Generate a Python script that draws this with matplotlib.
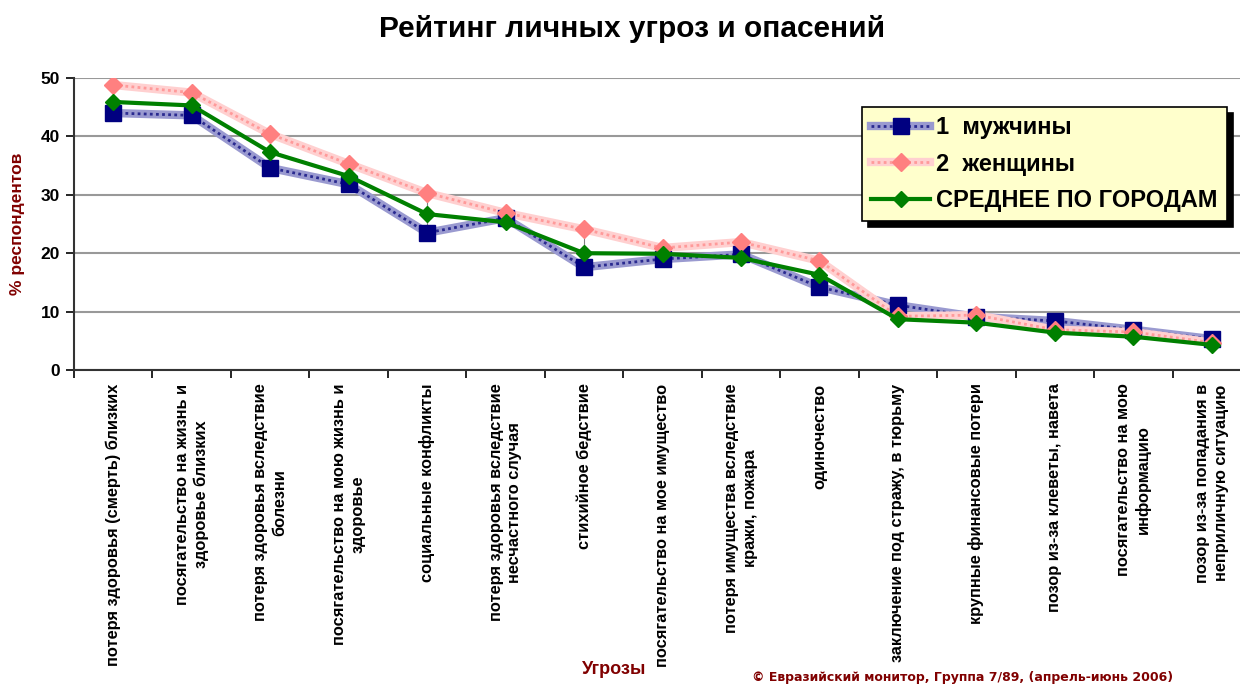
"""Rating of personal threats and fears: men vs women vs city average."""

import matplotlib.pyplot as plt
import numpy as np

CATEGORIES = [
    "потеря здоровья (смерть) близких",
    "посягательство на жизнь и\nздоровье близких",
    "потеря здоровья вследствие\nболезни",
    "посягательство на мою жизнь и\nздоровье",
    "социальные конфликты",
    "потеря здоровья вследствие\nнесчастного случая",
    "стихийное бедствие",
    "посягательство на мое имущество",
    "потеря имущества вследствие\nкражи, пожара",
    "одиночество",
    "заключение под стражу, в тюрьму",
    "крупные финансовые потери",
    "позор из-за клеветы, навета",
    "посягательство на мою\nинформацию",
    "позор из-за попадания в\nнеприличную ситуацию",
]
MEN = [44.0, 43.6, 34.6, 31.8, 23.5, 26.0, 17.6, 19.0, 19.8, 14.2, 11.1, 9.1, 8.4, 6.9, 5.3]
WOMEN = [48.8, 47.5, 40.4, 35.3, 30.3, 26.9, 24.1, 20.9, 21.9, 18.7, 9.2, 9.4, 6.9, 6.5, 4.7]
AVERAGE = [45.9, 45.3, 37.3, 33.2, 26.7, 25.3, 20.0, 19.9, 19.2, 16.3, 8.7, 8.1, 6.4, 5.7, 4.3]
SERIES_NAMES = ["1  мужчины", "2  женщины", "СРЕДНЕЕ ПО ГОРОДАМ"]

DARK_RED = "#800000"
plt.rcParams["font.family"] = ["Liberation Sans", "DejaVu Sans"]

W, H = 1240, 684
fig = plt.figure(figsize=(W / 100, H / 100), dpi=100)
ax = fig.add_axes([74 / W, (H - 370) / H, (1251 - 74) / W, 292 / H])

x = np.arange(len(CATEGORIES))
men = np.array(MEN)
women = np.array(WOMEN)
avg = np.array(AVERAGE)

# high-low lines between the series
hi = np.maximum.reduce([men, women, avg])
lo = np.minimum.reduce([men, women, avg])
ax.vlines(x, lo, hi, color="#808080", lw=0.8, zorder=2)

# men: hatched blue band
ax.plot(x, men, color="#9a9ad0", lw=6, solid_capstyle="butt", zorder=3)
ax.plot(x, men, color="#2a2a90", lw=2, ls=(0, (1, 1.2)), zorder=3)
ax.plot(x, men, ls="none", marker="s", ms=11, color="#000080", zorder=5)
# women: hatched pink band
ax.plot(x, women, color="#ffd0d0", lw=6, solid_capstyle="butt", zorder=3)
ax.plot(x, women, color="#ff9a9a", lw=2, ls=(0, (1, 1.2)), zorder=3)
ax.plot(x, women, ls="none", marker="D", ms=9, color="#ff8080", zorder=5)
# average
ax.plot(x, avg, color="#008000", lw=3, marker="D", ms=8.5, zorder=6)

# legend proxies
h_men = [
    plt.Line2D([], [], color="#9a9ad0", lw=6),
    plt.Line2D([], [], color="#2a2a90", lw=2, ls=(0, (1, 1.2)), marker="s", ms=11,
               mfc="#000080", mec="#000080"),
]
h_women = [
    plt.Line2D([], [], color="#ffd0d0", lw=6),
    plt.Line2D([], [], color="#ff9a9a", lw=2, ls=(0, (1, 1.2)), marker="D", ms=9,
               mfc="#ff8080", mec="#ff8080"),
]
h_avg = plt.Line2D([], [], color="#008000", lw=3, marker="D", ms=8.5)
leg = fig.legend(
    [tuple(h_men), tuple(h_women), h_avg], SERIES_NAMES,
    loc="upper left", bbox_to_anchor=(862 / W, 1 - 107 / H), borderaxespad=0,
    prop={"weight": "bold", "size": 17}, handlelength=2.5, handletextpad=0.25,
    borderpad=0.4, labelspacing=0.56, fancybox=False, framealpha=1,
    facecolor="#ffffcc", edgecolor="black",
    shadow={"color": "black", "alpha": 1, "ox": 4, "oy": -4},
)
leg.get_frame().set_linewidth(1.2)

ax.set_xlim(-0.5, len(CATEGORIES) - 0.5)
ax.set_ylim(0, 50)
ax.set_yticks(range(0, 51, 10))
ax.yaxis.grid(True, color="#999999", lw=1.5)
ax.set_axisbelow(True)
for s in ("top", "right"):
    ax.spines[s].set_visible(False)
for s in ("left", "bottom"):
    ax.spines[s].set_color("#333333")
    ax.spines[s].set_linewidth(1.5)
ax.tick_params(axis="y", direction="out", length=6, width=1.2, labelsize=12.5, pad=4)
for t in ax.get_yticklabels():
    t.set_fontweight("bold")

ax.set_xticks(np.arange(len(CATEGORIES) + 1) - 0.5)
ax.set_xticklabels([])
ax.tick_params(axis="x", direction="out", length=6, width=1.2)
for i, lab in enumerate(CATEGORIES):
    ax.text(i, -2.3, lab, rotation=90, ha="center", va="top", ma="center",
            fontsize=11.8, fontweight="bold", linespacing=1.3)

fig.text(632 / W, 1 - 29 / H, "Рейтинг личных угроз и опасений", ha="center", va="center",
         fontsize=21.5, fontweight="bold")
fig.text(18 / W, 1 - 224 / H, "% респондентов", rotation=90, ha="center", va="center",
         fontsize=12.5, fontweight="bold", color=DARK_RED)
fig.text(614 / W, 1 - 670 / H, "Угрозы", ha="center", va="center",
         fontsize=13, fontweight="bold", color=DARK_RED)
fig.text(963 / W, 1 - 677 / H, "© Евразийский монитор, Группа 7/89, (апрель-июнь 2006)",
         ha="center", va="center", fontsize=9, fontweight="bold", color=DARK_RED,
         family=["DejaVu Sans"])

fig.savefig("out.png", dpi=100)
